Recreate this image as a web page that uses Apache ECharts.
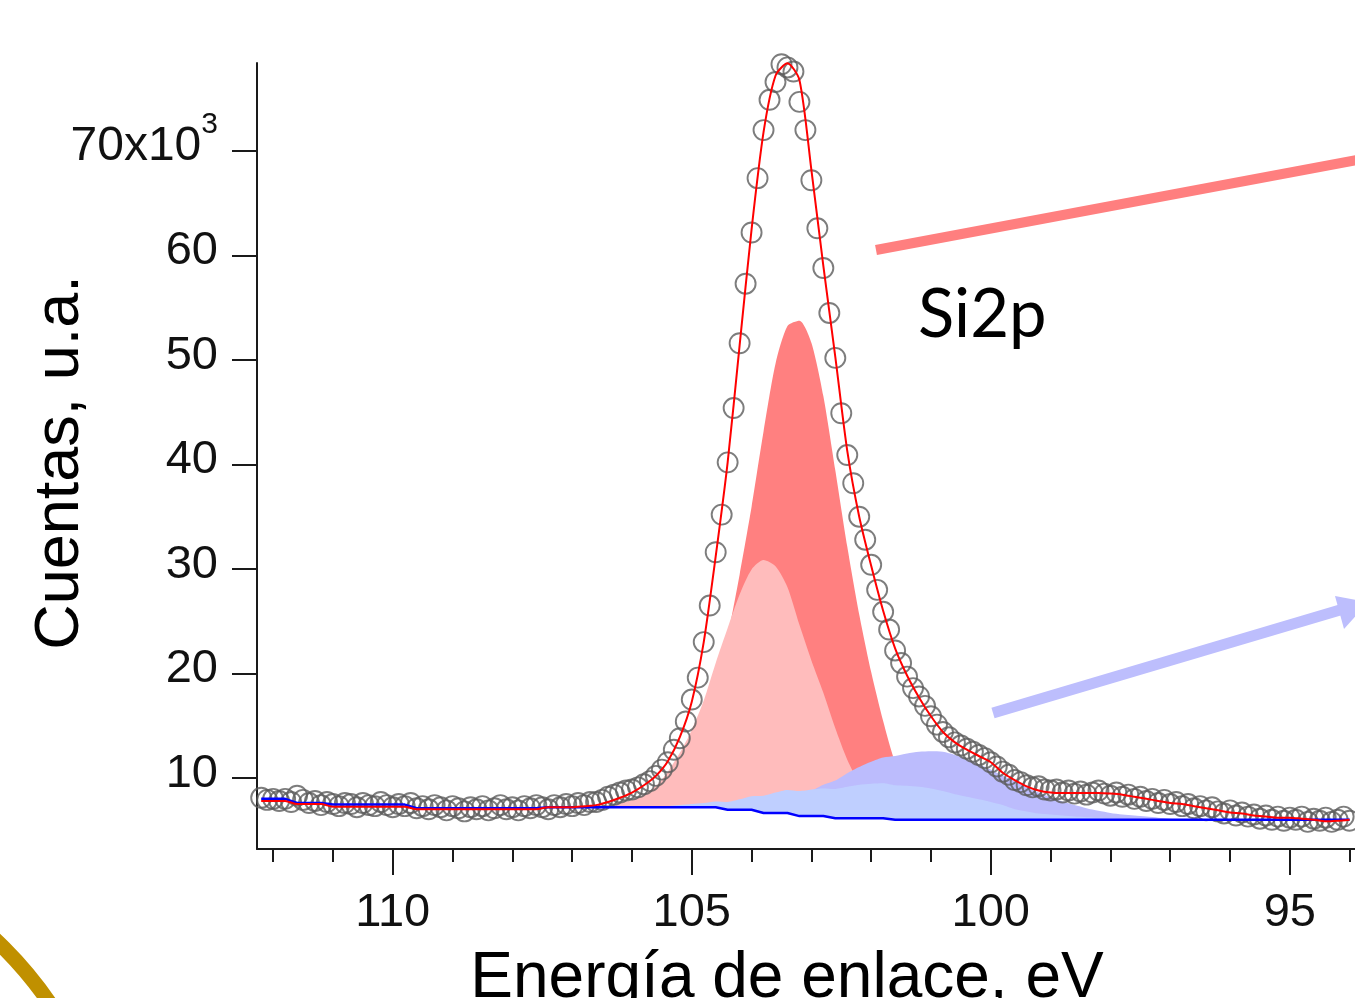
<!DOCTYPE html>
<html><head><meta charset="utf-8">
<script src="https://cdn.jsdelivr.net/npm/echarts@6/dist/echarts.min.js"></script>
<style>html,body{margin:0;padding:0;background:#fff}#chart{width:1355px;height:998px}</style>
</head><body><div id="chart"></div>
<script>
// Measured data points (binding energy, eV) and counts (x10^3)
const energy = [
112.2,112.1,112.0,111.9,111.8,111.7,111.6,111.5,111.4,111.3,
111.2,111.1,111.0,110.9,110.8,110.7,110.6,110.5,110.4,110.3,
110.2,110.1,110.0,109.9,109.8,109.7,109.6,109.5,109.4,109.3,
109.2,109.1,109.0,108.9,108.8,108.7,108.6,108.5,108.4,108.3,
108.2,108.1,108.0,107.9,107.8,107.7,107.6,107.5,107.4,107.3,
107.2,107.1,107.0,106.9,106.8,106.7,106.6,106.5,106.4,106.3,
106.2,106.1,106.0,105.9,105.8,105.7,105.6,105.5,105.4,105.3,
105.2,105.1,105.0,104.9,104.8,104.7,104.6,104.5,104.4,104.3,
104.2,104.1,104.0,103.9,103.8,103.7,103.6,103.5,103.4,103.3,
103.2,103.1,103.0,102.9,102.8,102.7,102.6,102.5,102.4,102.3,
102.2,102.1,102.0,101.9,101.8,101.7,101.6,101.5,101.4,101.3,
101.2,101.1,101.0,100.9,100.8,100.7,100.6,100.5,100.4,100.3,
100.2,100.1,100.0,99.9,99.8,99.7,99.6,99.5,99.4,99.3,
99.2,99.1,99.0,98.9,98.8,98.7,98.6,98.5,98.4,98.3,
98.2,98.1,98.0,97.9,97.8,97.7,97.6,97.5,97.4,97.3,
97.2,97.1,97.0,96.9,96.8,96.7,96.6,96.5,96.4,96.3,
96.2,96.1,96.0,95.9,95.8,95.7,95.6,95.5,95.4,95.3,
95.2,95.1,95.0,94.9,94.8,94.7,94.6,94.5,94.4,94.3,
94.2,94.1,94.0];
const counts = [
8.1,7.9,8.0,7.8,8.0,7.7,8.3,7.9,7.6,7.8,
7.4,7.7,7.5,7.3,7.6,7.5,7.2,7.6,7.4,7.3,
7.7,7.4,7.2,7.5,7.3,7.6,7.1,7.3,7.0,7.4,
7.2,6.9,7.3,7.1,6.8,7.2,7.0,7.3,6.9,7.1,
7.4,7.0,7.2,6.9,7.3,7.1,7.4,7.2,7.0,7.4,
7.2,7.5,7.3,7.6,7.4,7.7,7.7,7.9,8.2,8.4,
8.6,8.8,8.9,9.1,9.4,9.7,10.2,10.8,11.5,12.7,
13.8,15.4,17.5,19.6,23.0,26.5,31.6,35.2,40.2,45.4,
51.6,57.3,62.2,67.4,72.0,74.9,76.6,78.3,78.0,77.6,
74.7,72.0,67.2,62.6,58.8,54.5,50.2,44.9,40.9,38.2,
35.0,32.8,30.4,28.0,25.9,24.2,22.2,21.0,19.7,18.6,
17.8,16.9,15.9,15.1,14.4,13.9,13.4,13.1,12.8,12.5,
12.2,11.9,11.5,11.1,10.6,10.3,9.8,9.6,9.3,9.1,
9.2,8.9,8.8,8.9,8.6,8.8,8.5,8.7,8.4,8.6,
8.8,8.5,8.3,8.6,8.2,8.4,8.0,8.2,7.8,8.0,
7.6,7.9,7.5,7.7,7.3,7.5,7.1,7.3,6.9,7.2,
6.8,6.6,6.9,6.4,6.7,6.3,6.5,6.1,6.4,6.0,
6.3,5.9,6.2,6.0,6.3,5.8,6.1,5.9,6.2,5.8,
6.0,6.3,5.9];

// Fit grid (eV)
const fitEnergy = [
112.2,112.0,111.8,111.6,111.4,111.2,111.0,110.8,110.6,110.4,
110.2,110.0,109.8,109.6,109.4,109.2,109.0,108.8,108.6,108.4,
108.2,108.0,107.8,107.6,107.4,107.2,107.0,106.8,106.6,106.4,
106.2,106.0,105.8,105.6,105.4,105.2,105.0,104.8,104.6,104.4,
104.2,104.0,103.8,103.6,103.4,103.2,103.0,102.8,102.6,102.4,
102.2,102.0,101.8,101.6,101.4,101.2,101.0,100.8,100.6,100.4,
100.2,100.0,99.8,99.6,99.4,99.2,99.0,98.8,98.6,98.4,
98.2,98.0,97.8,97.6,97.4,97.2,97.0,96.8,96.6,96.4,
96.2,96.0,95.8,95.6,95.4,95.2,95.0,94.8,94.6,94.4,
94.2,94.0];
// Background (blue line)
const background = [
8.0,8.0,8.0,7.6,7.6,7.6,7.45,7.45,7.45,7.45,
7.45,7.45,7.45,7.1,7.1,7.1,7.1,7.1,7.1,7.1,
7.1,7.1,7.1,7.1,7.2,7.2,7.2,7.2,7.2,7.2,
7.2,7.2,7.2,7.2,7.2,7.2,7.2,7.2,7.2,6.95,
6.95,6.95,6.65,6.65,6.65,6.35,6.35,6.35,6.15,6.15,
6.15,6.15,6.15,6.0,6.0,6.0,6.0,6.0,6.0,6.0,
6.0,6.0,6.0,6.0,6.0,6.0,6.0,6.0,6.0,6.0,
6.0,6.0,6.0,6.0,6.0,6.0,6.0,6.0,6.0,6.0,
6.0,6.0,6.0,6.0,6.0,6.0,6.0,6.0,6.0,6.0,
6.0,6.0];
// Fit envelope (red line)
const envelope = [
7.8,7.8,7.8,7.5,7.5,7.5,7.25,7.25,7.25,7.25,
7.25,7.25,7.25,7.0,7.0,7.0,7.0,7.0,7.0,7.0,
7.0,7.0,7.0,7.0,7.2,7.2,7.2,7.3,7.4,7.7,
8.1,8.6,9.3,10.2,11.6,13.9,17.3,23.0,31.2,40.2,
51.4,62.5,71.8,77.2,78.4,76.8,68.2,59.0,50.3,41.3,
35.0,30.3,26.0,22.4,19.8,17.7,15.9,14.4,13.4,12.7,
12.1,11.5,10.5,9.8,9.2,8.8,8.6,8.55,8.55,8.55,
8.55,8.5,8.4,8.2,8.0,7.8,7.6,7.5,7.3,7.1,
6.9,6.7,6.6,6.4,6.3,6.2,6.2,6.1,6.0,5.85,
5.9,6.0];
// Fit components, height above background
const peakA = [
0,0,0,0,0,0,0,0,0,0,
0,0,0,0,0,0,0,0,0,0,
0,0,0,0,0,0,0,0,0,0,
0,0.05,0.15,0.3,0.8,1.8,3.8,6.5,10.5,16.5,
22.5,29.0,36.5,43.0,46.6,47.4,45.3,40.2,33.3,26.0,
19.5,14.0,9.3,5.5,3.2,1.7,0.8,0.3,0.1,0,
0,0,0,0,0,0,0,0,0,0,
0,0,0,0,0,0,0,0,0,0,
0,0,0,0,0,0,0,0,0,0,
0,0];
const peakB = [
0,0,0,0,0,0,0,0,0,0,
0,0,0,0,0,0,0,0,0,0,
0,0,0,0,0,0,0,0,0.1,0.2,
0.4,0.7,1.2,2.0,3.4,5.2,7.4,10.2,13.8,17.4,
20.6,23.0,24.2,23.6,21.6,18.3,14.9,11.8,8.6,5.6,
3.4,1.9,1.0,0.5,0.2,0,0,0,0,0,
0,0,0,0,0,0,0,0,0,0,
0,0,0,0,0,0,0,0,0,0,
0,0,0,0,0,0,0,0,0,0,
0,0];
const peakC = [
0,0,0,0,0,0,0,0,0,0,
0,0,0,0,0,0,0,0,0,0,
0,0,0,0,0,0,0,0,0,0,
0,0,0,0,0,0,0.05,0.1,0.2,0.3,
0.45,0.6,0.85,1.1,1.5,1.9,2.4,3.0,3.6,4.3,
4.9,5.4,5.8,6.1,6.35,6.5,6.55,6.5,6.2,5.8,
5.3,4.8,4.2,3.7,3.1,2.6,2.15,1.75,1.4,1.1,
0.85,0.65,0.5,0.4,0.3,0.2,0.1,0.05,0,0,
0,0,0,0,0,0,0,0,0,0,
0,0];
const peakD = [
0,0,0,0,0,0,0,0,0,0,
0,0,0,0,0,0,0,0,0,0,
0,0,0,0,0,0,0,0,0,0,
0,0,0,0.05,0.1,0.2,0.3,0.4,0.55,0.75,
1.0,1.3,1.65,1.95,2.2,2.4,2.55,2.65,2.8,3.0,
3.2,3.3,3.35,3.3,3.25,3.15,3.0,2.75,2.45,2.2,
1.95,1.7,1.4,1.0,0.8,0.6,0.5,0.4,0.3,0.25,
0.2,0.15,0.1,0.05,0,0,0,0,0,0,
0,0,0,0,0,0,0,0,0,0,
0,0];

const yTicks = [10,20,30,40,50,60,70];
const xMajorTicks = [95,100,105,110];
const xMinorTicks = [94,95,96,97,98,99,100,101,102,103,104,105,106,107,108,109,110,111,112];

const FONT = 'Liberation Sans';
const AXIS_COLOR = '#1a1a1a';
const pairs = (xs, ys) => xs.map((x, i) => [x, ys[i]]);
// value first so that ECharts stacks on the y (counts) dimension
const pairsYX = (xs, ys) => xs.map((x, i) => [ys[i], x]);

const comps = [
  {data: peakA, color: '#ff8080'},
  {data: peakB, color: '#ffbcbc'},
  {data: peakC, color: '#bcbcfd'},
  {data: peakD, color: '#bfcfff'}
];
const series = [];
comps.forEach((c, k) => {
  series.push({type: 'line', stack: 's' + k, data: pairsYX(fitEnergy, background), encode: {x: 1, y: 0},
    symbol: 'none', lineStyle: {opacity: 0, width: 0}, silent: true, z: 2, emphasis: {disabled: true}});
  series.push({type: 'line', stack: 's' + k, data: pairsYX(fitEnergy, c.data), encode: {x: 1, y: 0},
    symbol: 'none', smooth: 0.25, lineStyle: {opacity: 0, width: 0}, areaStyle: {color: c.color, opacity: 1},
    silent: true, z: 2, emphasis: {disabled: true}});
});
series.push({type: 'scatter', data: pairs(energy, counts), symbol: 'circle', symbolSize: 20,
  itemStyle: {color: 'rgba(0,0,0,0)', borderColor: '#5c5c5c', borderWidth: 1.9},
  silent: true, z: 3, emphasis: {disabled: true}});
series.push({type: 'line', data: pairs(fitEnergy, background), symbol: 'none',
  lineStyle: {color: '#0000ff', width: 2.5}, silent: true, z: 4, emphasis: {disabled: true}});
series.push({type: 'line', data: pairs(fitEnergy, envelope), symbol: 'none', smooth: 0.25,
  lineStyle: {color: '#ff0000', width: 2}, silent: true, z: 5, emphasis: {disabled: true}});

const chart = echarts.init(document.getElementById('chart'), null, {renderer: 'canvas'});
chart.setOption({
  animation: false,
  backgroundColor: '#ffffff',
  grid: {left: 257, right: 0, top: 63, bottom: 149, containLabel: false, outerBoundsMode: 'none'},
  xAxis: [{
    type: 'value', position: 'bottom', inverse: true, min: 93.91, max: 112.27,
    name: 'Energía de enlace, eV', nameLocation: 'middle', nameGap: 98, nameMoveOverlap: false,
    nameTextStyle: {fontFamily: FONT, fontSize: 64, color: '#000', padding: [0, 38, 0, 0]},
    axisLine: {show: true, onZero: false, lineStyle: {color: AXIS_COLOR, width: 2}},
    axisTick: {show: true, inside: false, length: 13, customValues: xMinorTicks, lineStyle: {color: AXIS_COLOR, width: 2}},
    axisLabel: {show: true, customValues: xMajorTicks, margin: 41, fontFamily: FONT, fontSize: 47, color: '#111'},
    splitLine: {show: false}
  }, {
    type: 'value', position: 'bottom', inverse: true, min: 93.91, max: 112.27,
    axisLine: {show: false, onZero: false},
    axisTick: {show: true, inside: false, length: 26, customValues: xMajorTicks, lineStyle: {color: AXIS_COLOR, width: 2}},
    axisLabel: {show: false},
    splitLine: {show: false}
  }],
  yAxis: {
    type: 'value', min: 3.2, max: 78.42,
    name: 'Cuentas, u.a.', nameLocation: 'middle', nameGap: 165, nameRotate: 90, nameMoveOverlap: false,
    nameTextStyle: {fontFamily: FONT, fontSize: 63, color: '#000', padding: [0, 13, 0, 0]},
    axisLine: {show: true, onZero: false, lineStyle: {color: AXIS_COLOR, width: 2}},
    axisTick: {show: true, inside: false, length: 25, customValues: yTicks, lineStyle: {color: AXIS_COLOR, width: 2}},
    axisLabel: {
      show: true, customValues: yTicks, margin: 39, fontFamily: FONT, fontSize: 47, color: '#111',
      padding: [0, 0, 8, 0],
      formatter: v => v === 70 ? '{a|70x10}{s|3}' : String(v),
      rich: {
        a: {fontFamily: FONT, fontSize: 48, color: '#111'},
        s: {fontFamily: FONT, fontSize: 30, color: '#111', padding: [0, 0, 45, 0]}
      }
    },
    splitLine: {show: false}
  },
  graphic: [
    {type: 'line', shape: {x1: 876, y1: 250, x2: 1362, y2: 159}, style: {stroke: '#ff7f7f', lineWidth: 10}, z: 20, silent: true},
    {type: 'line', shape: {x1: 993, y1: 713, x2: 1340, y2: 610}, style: {stroke: '#bdbefd', lineWidth: 11}, z: 20, silent: true},
    {type: 'polygon', shape: {points: [[1335, 596], [1368, 602], [1344, 629]]}, style: {fill: '#bdbefd'}, z: 20, silent: true},
    {type: 'text', style: {x: 918, y: 315, text: 'Si2p', font: '67px Lato', fill: '#000', verticalAlign: 'middle'}, z: 20, silent: true},
    {type: 'circle', shape: {cx: -264, cy: 1216, r: 379}, style: {fill: 'none', stroke: '#c09000', lineWidth: 15}, z: 20, silent: true}
  ],
  series: series
});
</script></body></html>
